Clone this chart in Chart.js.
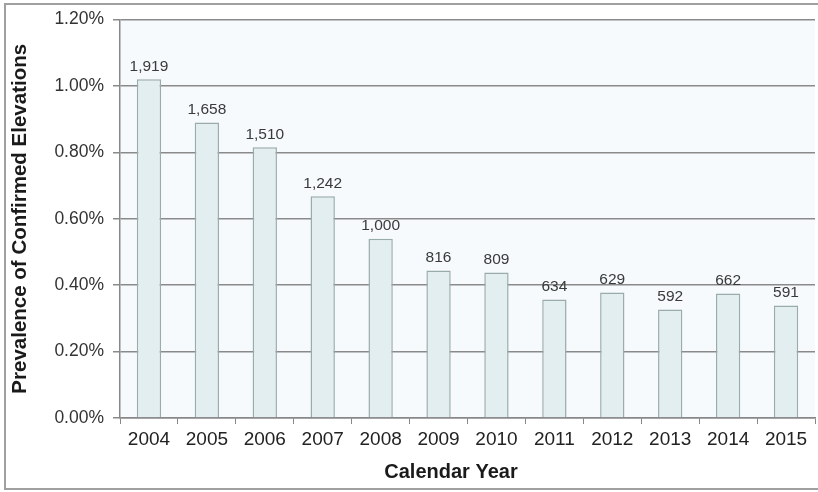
<!DOCTYPE html>
<html>
<head>
<meta charset="utf-8">
<script src="https://cdn.jsdelivr.net/npm/chart.js@4"></script>
<style>
  body { margin: 0; background: #fff; }
  #wrap { width: 818px; height: 492px; }
</style>
</head>
<body>
<div id="wrap"><canvas id="c"></canvas></div>
<script>
// data
let years = ['2004', '2005', '2006', '2007', '2008', '2009', '2010', '2011', '2012', '2013', '2014', '2015']
let prevalence = [1.02, 0.89, 0.815, 0.668, 0.54, 0.444, 0.438, 0.357, 0.378, 0.327, 0.375, 0.339]
let counts = ['1,919', '1,658', '1,510', '1,242', '1,000', '816', '809', '634', '629', '592', '662', '591']

// frame + plot background
let framePlugin = {
    id: 'frame',
    beforeDraw(chart) {
        let ctx = chart.ctx
        let a = chart.chartArea
        ctx.save()
        ctx.fillStyle = '#f6fafc'
        ctx.fillRect(a.left, a.top, a.right - a.left, a.bottom - a.top)
        ctx.strokeStyle = '#a0a0a0'
        ctx.lineWidth = 2
        ctx.strokeRect(5, 4, 830, 485)
        ctx.restore()
    }
}

// count labels over the bars + x title
let labelPlugin = {
    id: 'counts',
    afterDatasetsDraw(chart) {
        let ctx = chart.ctx
        ctx.save()
        ctx.font = '15.5px "Liberation Sans", Arial, sans-serif'
        ctx.fillStyle = '#3a3a3a'
        ctx.textAlign = 'center'
        ctx.textBaseline = 'bottom'
        chart.getDatasetMeta(0).data.forEach((bar, i) => {
            ctx.fillText(counts[i], bar.x, bar.y - 5)
        })
        ctx.font = 'bold 20px "Liberation Sans", Arial, sans-serif'
        ctx.fillStyle = '#1a1a1a'
        ctx.textBaseline = 'middle'
        ctx.fillText('Calendar Year', 451, 472)
        ctx.restore()
    }
}

let chart = new Chart(document.getElementById('c'), {
    type: 'bar',
    data: {
        labels: years,
        datasets: [{
            data: prevalence,
            backgroundColor: '#e2eef0',
            borderColor: '#9aabab',
            borderWidth: 1.5,
            categoryPercentage: 1,
            barPercentage: 0.42
        }]
    },
    options: {
        responsive: true,
        maintainAspectRatio: false,
        animation: false,
        layout: { padding: { left: 8, right: 3, top: 18, bottom: 0 } },
        plugins: { legend: { display: false }, tooltip: { enabled: false } },
        scales: {
            x: {
                grid: { drawOnChartArea: false, drawTicks: true, tickLength: 6, color: '#888' },
                border: { color: '#888', width: 1.5 },
                ticks: { padding: 4, color: '#222', font: { size: 19, family: '"Liberation Sans", Arial, sans-serif' } },
                afterFit(s) { s.height = 74 }
            },
            y: {
                min: 0,
                max: 1.2,
                ticks: {
                    stepSize: 0.2,
                    padding: 9,
                    color: '#333',
                    font: { size: 17.5, family: '"Liberation Sans", Arial, sans-serif' },
                    callback: v => v.toFixed(2) + '%'
                },
                grid: { color: '#8a8a8a', lineWidth: 1.5, tickLength: 7 },
                border: { color: '#888', width: 1.5 },
                title: {
                    display: true,
                    text: 'Prevalence of Confirmed Elevations',
                    padding: 0,
                    color: '#1a1a1a',
                    font: { size: 20.5, weight: 'bold', family: '"Liberation Sans", Arial, sans-serif' }
                },
                afterFit(s) { s.width = 112 }
            }
        }
    },
    plugins: [framePlugin, labelPlugin]
})
</script>
</body>
</html>
